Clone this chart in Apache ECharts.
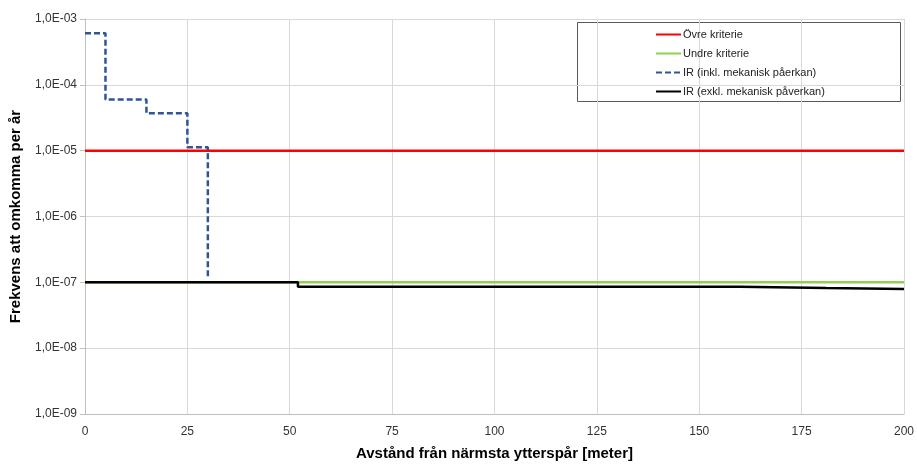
<!DOCTYPE html>
<html><head><meta charset="utf-8">
<script src="https://cdn.jsdelivr.net/npm/echarts@6/dist/echarts.min.js"></script>
<style>html,body{margin:0;padding:0;background:#fff}#c{width:917px;height:466px}</style>
</head><body><div id="c"></div>
<script>
const xTicks = [0, 25, 50, 75, 100, 125, 150, 175, 200];
const seriesNames = ['Övre kriterie', 'Undre kriterie', 'IR (inkl. mekanisk påerkan)', 'IR (exkl. mekanisk påverkan)'];
const upperX = [0, 200];
const upperY = [1e-5, 1e-5];
const lowerX = [0, 200];
const lowerY = [1e-7, 1e-7];
const irInklX = [0, 5, 15, 25, 30];
const irInklY = [6.1e-4, 6.0e-5, 3.7e-5, 1.13e-5, 1.15e-7];
const irExklX = [0, 52, 160, 181, 200];
const irExklY = [1e-7, 8.6e-8, 8.2e-8, 7.9e-8, 7.9e-8];

const pair = (xs, ys) => xs.map((x, i) => [x, ys[i]]);
const FONT = '"Liberation Sans Narrow","Liberation Sans",sans-serif';

const chart = echarts.init(document.getElementById('c'), null, {renderer: 'canvas'});
chart.setOption({
  animation: false,
  backgroundColor: '#fff',
  grid: {left: 84, right: 12, top: 19, bottom: 49, containLabel: false},
  xAxis: {
    type: 'value', min: 0, max: 200, interval: 25,
    name: 'Avstånd från närmsta ytterspår [meter]',
    nameLocation: 'middle', nameGap: 32,
    nameTextStyle: {fontFamily: FONT, fontWeight: 'bold', fontSize: 15, color: '#000'},
    axisLine: {show: true, lineStyle: {color: '#bfbfbf'}},
    axisTick: {show: false},
    axisLabel: {fontFamily: FONT, fontSize: 12, color: '#333', margin: 12,
      formatter: v => xTicks.includes(v) ? String(v) : ''},
    splitLine: {show: true, lineStyle: {color: '#d9d9d9'}}
  },
  yAxis: {
    type: 'log', logBase: 10, min: 1e-9, max: 1e-3,
    name: 'Frekvens att omkomma per år',
    nameLocation: 'middle', nameGap: 62, nameRotate: 90,
    nameTextStyle: {fontFamily: FONT, fontWeight: 'bold', fontSize: 15, color: '#000'},
    axisLine: {show: true, lineStyle: {color: '#bfbfbf'}},
    axisTick: {show: true, length: 5, inside: false, lineStyle: {color: '#bfbfbf'}},
    axisLabel: {fontFamily: FONT, fontSize: 12, color: '#333', margin: 8,
      formatter: v => {
        const e = Math.round(Math.log10(v));
        const s = Math.abs(e) < 10 ? '0' + Math.abs(e) : String(Math.abs(e));
        return '1,0E' + (e < 0 ? '-' : '+') + s;
      }},
    splitLine: {show: true, lineStyle: {color: '#d9d9d9'}}
  },
  legend: {
    orient: 'vertical', left: 650, top: 24,
    itemWidth: 25, itemHeight: 10, itemGap: 8,
    itemStyle: {opacity: 0},
    textStyle: {fontFamily: FONT, fontSize: 11, color: '#222', padding: [0, 0, 0, -3]},
    data: seriesNames.map(n => ({name: n}))
  },
  graphic: [{
    type: 'rect', left: 577, top: 22, z: -1,
    shape: {width: 323, height: 79},
    style: {fill: '#fff', stroke: '#595959', lineWidth: 1}
  }],
  series: [
    {name: seriesNames[0], type: 'line', symbol: 'none',
      data: pair(upperX, upperY), color: '#ff0000', lineStyle: {width: 2.5, color: '#ff0000'}, z: 2},
    {name: seriesNames[1], type: 'line', symbol: 'none',
      data: pair(lowerX, lowerY), color: '#92d050', lineStyle: {width: 2.5, color: '#92d050'}, z: 2},
    {name: seriesNames[2], type: 'line', step: 'end', symbol: 'none',
      data: pair(irInklX, irInklY), color: '#2f5597',
      lineStyle: {width: 2.5, color: '#2f5597', type: [6, 3]}, z: 4},
    {name: seriesNames[3], type: 'line', step: 'end', symbol: 'none',
      data: pair(irExklX, irExklY), color: '#000', lineStyle: {width: 2.5, color: '#000'}, z: 3}
  ]
});
</script></body></html>
